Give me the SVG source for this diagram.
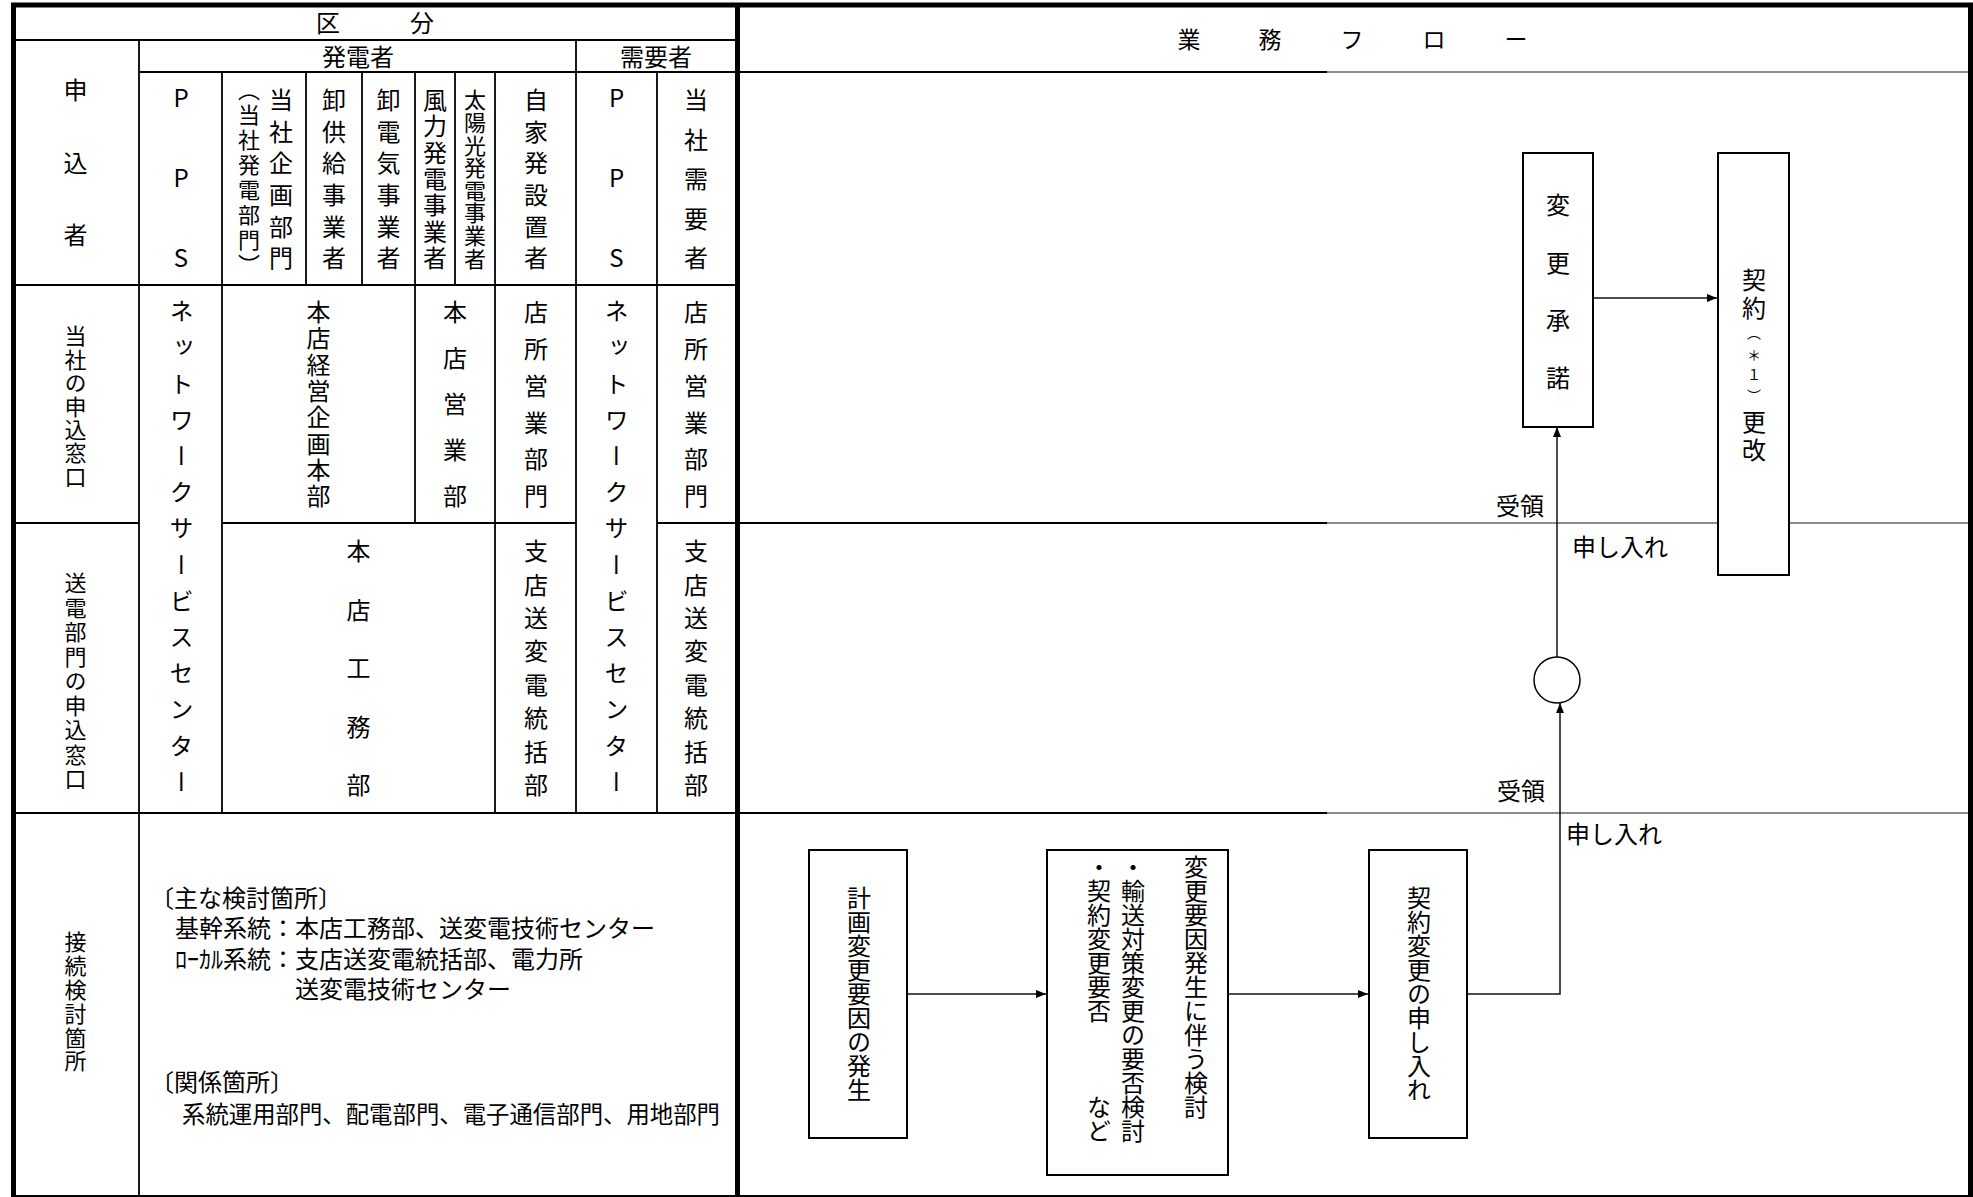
<svg xmlns="http://www.w3.org/2000/svg" width="1973" height="1197" viewBox="0 0 1973 1197">
<defs>
<style>
svg{font-size:24px}
text{font-family:"Noto Sans CJK JP","Noto Sans CJK SC",sans-serif;fill:#000}
.v{writing-mode:vertical-rl}
.up{text-orientation:upright}
.m{text-anchor:middle}
.grid{stroke:#000;stroke-width:1.8;fill:none}
.thick{stroke:#000;stroke-width:5;fill:none}
.gray{stroke:#666;stroke-width:1.6;fill:none}
.box{fill:#fff;stroke:#000;stroke-width:2}
.conn{fill:none;stroke:#111;stroke-width:1.5}
</style>
<marker id="arr" markerWidth="10" markerHeight="8" refX="10" refY="4" orient="auto" markerUnits="userSpaceOnUse"><path d="M0,0 L10,4 L0,8 Z" fill="#000"/></marker>
</defs>
<rect width="1973" height="1197" fill="#fff"/>

<g id="table-lines">
<path class="grid" d="M13,40 H737 M139,72 H1327 M13,285 H737 M13,523 H139 M222,523 H576 M657,523 H737 M13,813 H737 M740,523 H1327 M740,813 H1327"/>
<path class="gray" d="M1327,72 H1968 M1327,523 H1968 M1327,813 H1968"/>
<path class="grid" d="M139,40 V1196 M576,40 V813 M222,72 V813 M657,72 V813 M495,72 V813 M415,72 V523 M306,72 V285 M362,72 V285 M455,72 V285"/>
<path class="grid" d="M11,1196 H1973"/>
<path class="thick" d="M11,5 H1973 M13.5,3 V1197 M1970.5,3 V1197 M737.5,3 V1197"/>
</g>

<g id="header-kubun"><text y="32" class="m"><tspan x="328">区</tspan><tspan x="422">分</tspan></text></g>
<g id="header-hatsudensha"><text x="358" y="66" class="m">発電者</text></g>
<g id="header-juyosha"><text x="656" y="66" class="m">需要者</text></g>
<g id="header-flow"><text y="48" font-size="23" class="m"><tspan x="1189">業</tspan><tspan x="1270">務</tspan><tspan x="1352">フ</tspan><tspan x="1434">ロ</tspan><tspan x="1516">ー</tspan></text></g>

<g id="row-moushikomisha"><text class="v" x="75.5" y="78" letter-spacing="48.5">申込者</text></g>
<g id="c-pps1"><text class="v up" x="181" y="86" letter-spacing="56">PPS</text></g>
<g id="c-kikaku"><text class="v" x="281" y="88" letter-spacing="7.6">当社企画部門</text><text class="v" x="249" y="79" font-size="22" letter-spacing="3">（当社発電部門）</text></g>
<g id="c-oroshikyokyu"><text class="v" x="334" y="88" letter-spacing="7.6">卸供給事業者</text></g>
<g id="c-oroshidenki"><text class="v" x="388.5" y="88" letter-spacing="7.6">卸電気事業者</text></g>
<g id="c-furyoku"><text class="v" x="435" y="88" letter-spacing="2.3">風力発電事業者</text></g>
<g id="c-taiyoko"><text class="v" x="475" y="89" font-size="22" letter-spacing="0.6">太陽光発電事業者</text></g>
<g id="c-jikahatsu"><text class="v" x="536" y="88" letter-spacing="7.6">自家発設置者</text></g>
<g id="c-pps2"><text class="v up" x="616.5" y="86" letter-spacing="56">PPS</text></g>
<g id="c-tosha-juyo"><text class="v" x="696" y="88" letter-spacing="15.5">当社需要者</text></g>

<g id="row-tosha"><text class="v" x="75.5" y="325" font-size="22" letter-spacing="1.4">当社の申込窓口</text></g>
<g id="c-nsc1"><text class="v" x="181.5" y="299" letter-spacing="12.2">ネットワークサービスセンター</text></g>
<g id="c-keiei"><text class="v" x="318.5" y="300" letter-spacing="2.3">本店経営企画本部</text></g>
<g id="c-honten-eigyo"><text class="v" x="455" y="300" letter-spacing="22">本店営業部</text></g>
<g id="c-tensho1"><text class="v" x="536" y="300" letter-spacing="12.8">店所営業部門</text></g>
<g id="c-nsc2"><text class="v" x="616.5" y="299" letter-spacing="12.2">ネットワークサービスセンター</text></g>
<g id="c-tensho2"><text class="v" x="696" y="300" letter-spacing="12.8">店所営業部門</text></g>

<g id="row-soden"><text class="v" x="75.5" y="572" font-size="22" letter-spacing="2.5">送電部門の申込窓口</text></g>
<g id="c-koumu"><text class="v" x="358.5" y="539" letter-spacing="34.5">本店工務部</text></g>
<g id="c-shiten1"><text class="v" x="536" y="539" letter-spacing="9.4">支店送変電統括部</text></g>
<g id="c-shiten2"><text class="v" x="696" y="539" letter-spacing="9.4">支店送変電統括部</text></g>

<g id="row-setsuzoku"><text class="v" x="75.5" y="931" font-size="22" letter-spacing="1.8">接続検討箇所</text></g>
<g id="c-kento">
<text><tspan x="150" y="907">〔主な検討箇所〕</tspan><tspan x="175" y="937">基幹系統：本店工務部、送変電技術センター</tspan><tspan x="175" y="968">ﾛｰｶﾙ系統：支店送変電統括部、電力所</tspan><tspan x="295" y="998">送変電技術センター</tspan></text>
<text><tspan x="150" y="1091">〔関係箇所〕</tspan><tspan x="182" y="1123" font-size="23.4">系統運用部門、配電部門、電子通信部門、用地部門</tspan></text>
</g>

<g id="connectors">
<path class="conn" d="M907,994 H1046" marker-end="url(#arr)"/>
<path class="conn" d="M1228,994 H1368" marker-end="url(#arr)"/>
<path class="conn" d="M1467,994 H1560 V703" marker-end="url(#arr)"/>
<path class="conn" d="M1557,657 V427" marker-end="url(#arr)"/>
<path class="conn" d="M1593,298 H1717" marker-end="url(#arr)"/>
</g>

<g id="label-juryo1"><text x="1520" y="515" class="m">受領</text></g>
<g id="label-moshiire1"><text x="1572" y="556">申し入れ</text></g>
<g id="label-juryo2"><text x="1521" y="800" class="m">受領</text></g>
<g id="label-moshiire2"><text x="1566" y="843">申し入れ</text></g>

<g id="n-henko-shodaku"><rect class="box" x="1523" y="153" width="70" height="274"/><text class="v" x="1558" y="193" letter-spacing="33.5">変更承諾</text></g>
<g id="n-keiyaku-koukai"><rect class="box" x="1718" y="153" width="71" height="422"/><text class="v" x="1754"><tspan y="268">契</tspan><tspan y="296">約</tspan><tspan y="326" font-size="14">（</tspan><tspan y="348" font-size="14">＊</tspan><tspan y="368" font-size="14">１</tspan><tspan y="389" font-size="14">）</tspan><tspan y="410">更</tspan><tspan y="438">改</tspan></text></g>
<g id="n-circle"><circle cx="1557" cy="680" r="23" fill="#fff" stroke="#000" stroke-width="1.5"/></g>
<g id="n-keikaku"><rect class="box" x="809" y="850" width="98" height="288"/><text class="v" x="859" y="886">計画変更要因の発生</text></g>
<g id="n-kento"><rect class="box" x="1047" y="850" width="181" height="325"/><text class="v" x="1196" y="855">変更要因発生に伴う検討</text><text class="v" x="1133" y="855">・輸送対策変更の要否検討</text><text class="v" x="1099" y="855">・契約変更要否　　　など</text></g>
<g id="n-moshiire"><rect class="box" x="1369" y="850" width="98" height="288"/><text class="v" x="1419" y="886">契約変更の申し入れ</text></g>
</svg>
